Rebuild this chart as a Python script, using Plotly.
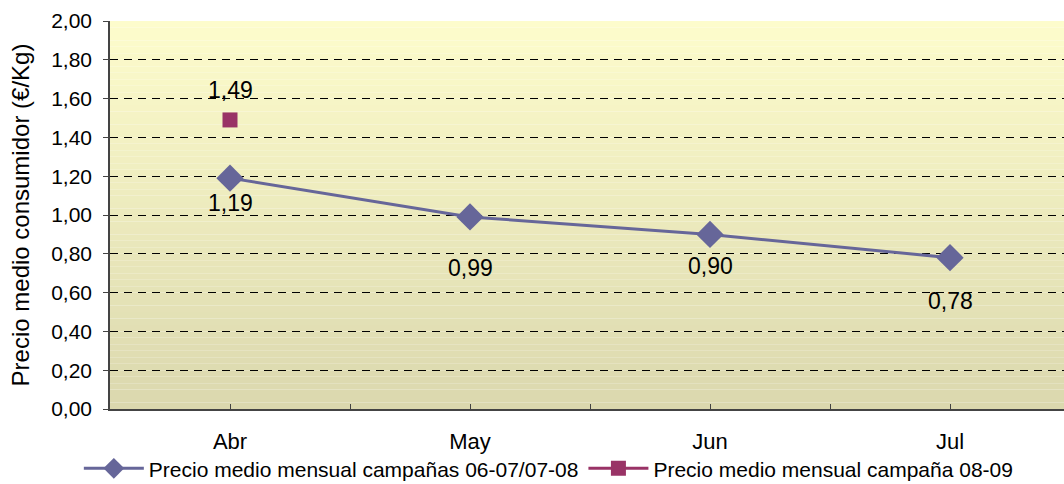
import plotly.graph_objects as go

# data
meses = ["Abr", "May", "Jun", "Jul"]
precio_0607_0708 = [1.19, 0.99, 0.90, 0.78]
meses_0809 = ["Abr"]
precio_0809 = [1.49]

serie_a = "Precio medio mensual campañas 06-07/07-08"
serie_b = "Precio medio mensual campaña 08-09"

# label offsets (px) as in the original Excel chart
shift_a = [-25, -51, -32, -43]
shift_b = [30]

FONT = "Liberation Sans, Arial, sans-serif"
x_a = [meses.index(m) for m in meses]
x_b = [meses.index(m) for m in meses_0809]


def fmt(v):
    return f"{v:.2f}".replace(".", ",")


fig = go.Figure()

fig.add_trace(go.Scatter(
    x=x_a, y=precio_0607_0708, mode="lines+markers", name=serie_a,
    line=dict(color="#666699", width=3),
    marker=dict(symbol="diamond", size=21, color="#666699"),
))
# legend sample of the second series shows a line, a single point draws none
fig.add_trace(go.Scatter(
    x=x_b, y=precio_0809, mode="lines+markers", name=serie_b,
    line=dict(color="#993366", width=3),
    marker=dict(symbol="square", size=15, color="#993366"),
))

annotations = []
for x, v, s in zip(x_a, precio_0607_0708, shift_a):
    annotations.append(dict(x=x, y=v, text=fmt(v), showarrow=False, yshift=s,
                            font=dict(size=23, color="black", family=FONT)))
for x, v, s in zip(x_b, precio_0809, shift_b):
    annotations.append(dict(x=x, y=v, text=fmt(v), showarrow=False, yshift=s,
                            font=dict(size=23, color="black", family=FONT)))

# vertical gradient background (light yellow -> khaki)
top = (253, 252, 204)
bot = (219, 216, 174)
n = 60
shapes = []
for i in range(n):
    t = i / (n - 1)
    c = tuple(round(top[k] + (bot[k] - top[k]) * t) for k in range(3))
    shapes.append(dict(type="rect", xref="x domain", yref="y domain",
                       x0=0, x1=1, y0=1 - (i + 1) / n, y1=1 - i / n,
                       fillcolor=f"rgb{c}", line=dict(width=0), layer="below"))

tickvals = [i * 0.5 for i in range(8)]
ticktext = [meses[int(v)] if v == int(v) else "" for v in tickvals]

fig.update_layout(
    width=1064, height=484,
    margin=dict(l=110, r=0, t=21, b=75),
    paper_bgcolor="white", plot_bgcolor="white",
    font=dict(family=FONT, color="black", size=21),
    separators=",.",
    showlegend=True,
    legend=dict(orientation="h", x=0.46, xanchor="center",
                yref="container", y=0.074, yanchor="top",
                bgcolor="rgba(0,0,0,0)", font=dict(size=21), itemwidth=60,
                traceorder="normal"),
    annotations=annotations,
    shapes=shapes,
)
fig.update_xaxes(
    range=[-0.5, 3.475], tickvals=tickvals, ticktext=ticktext,
    showgrid=False, zeroline=False, showline=True, linecolor="#444444",
    linewidth=1.5, ticks="inside", ticklen=5, tickcolor="#444444",
    tickfont=dict(size=22), ticklabelstandoff=12, automargin=False,
)
fig.update_yaxes(
    range=[0, 2], dtick=0.2, tickformat=".2f",
    showgrid=True, gridcolor="black", griddash="8px,6px", gridwidth=1,
    zeroline=False, showline=True, linecolor="#444444", linewidth=1.5,
    ticks="outside", ticklen=5, tickcolor="#444444",
    tickfont=dict(size=21), ticklabelstandoff=7, automargin=False,
    title=dict(text="Precio medio consumidor (€/Kg)", font=dict(size=24),
               standoff=15),
)

# the page body has an 8px default margin; drop it so the chart sits at 0,0
fig.write_html("out.html", config={"displayModeBar": False},
               post_script="document.body.style.margin='0px';")
